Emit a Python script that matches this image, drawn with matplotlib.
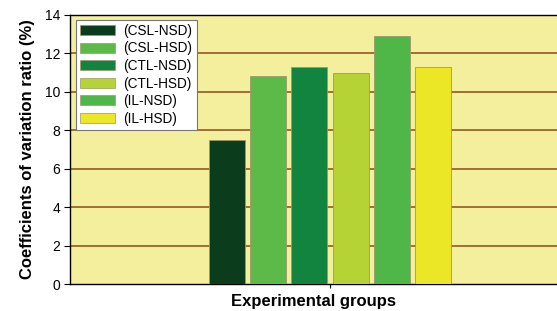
import matplotlib.pyplot as plt
from matplotlib.patches import Patch

plt.rcParams['font.family'] = ['Liberation Sans', 'DejaVu Sans']

groups = ['(CSL-NSD)', '(CSL-HSD)', '(CTL-NSD)', '(CTL-HSD)', '(IL-NSD)', '(IL-HSD)']
values = [7.5, 10.83, 11.27, 10.97, 12.92, 11.27]
colors = ['#0b3c1b', '#5db948', '#13843f', '#b6d335', '#4fb748', '#ebe626']

fig = plt.figure(figsize=(5.57, 3.11), dpi=100)
ax = fig.add_axes([0.1257, 0.0868, 0.8743, 0.865])
ax.set_facecolor('#f3ef9c')

pos = [i - 2.5 for i in range(len(values))]
ax.bar(pos, values, width=0.87, color=colors, edgecolor='#9a9a6a', linewidth=0.6, zorder=3)

ax.set_ylim(0, 14)
ax.set_xlim(-6.3, 5.5)
ax.set_yticks(range(0, 15, 2))
ax.set_xticks([0])
ax.set_xticklabels([''])
for y in range(2, 14, 2):
    ax.axhline(y, color='#8b4a1c', linewidth=1.1, zorder=1)

ax.spines['right'].set_visible(False)
for s in ['left', 'bottom', 'top']:
    ax.spines[s].set_color('black')
    ax.spines[s].set_linewidth(1.0)
ax.tick_params(axis='y', length=4, labelsize=10, colors='black', pad=3)
ax.tick_params(axis='x', length=3)

ax.set_ylabel('Coefficients of variation ratio (%)', fontsize=12, fontweight='bold', labelpad=7)
ax.set_xlabel('Experimental groups', fontsize=12, fontweight='bold', labelpad=1)

handles = [Patch(facecolor=c, edgecolor='#9a9a6a', linewidth=0.5) for c in colors]
leg = ax.legend(handles, groups, loc='upper left', bbox_to_anchor=(0.012, 0.982),
                fontsize=9.8, frameon=True, fancybox=False, edgecolor='#777777',
                handlelength=2.6, handleheight=0.75, labelspacing=0.26,
                borderpad=0.3, handletextpad=0.6, borderaxespad=0.0)
leg.get_frame().set_linewidth(0.8)
leg.get_frame().set_facecolor('white')
leg.get_frame().set_alpha(1)

fig.savefig('out.png', dpi=100)
